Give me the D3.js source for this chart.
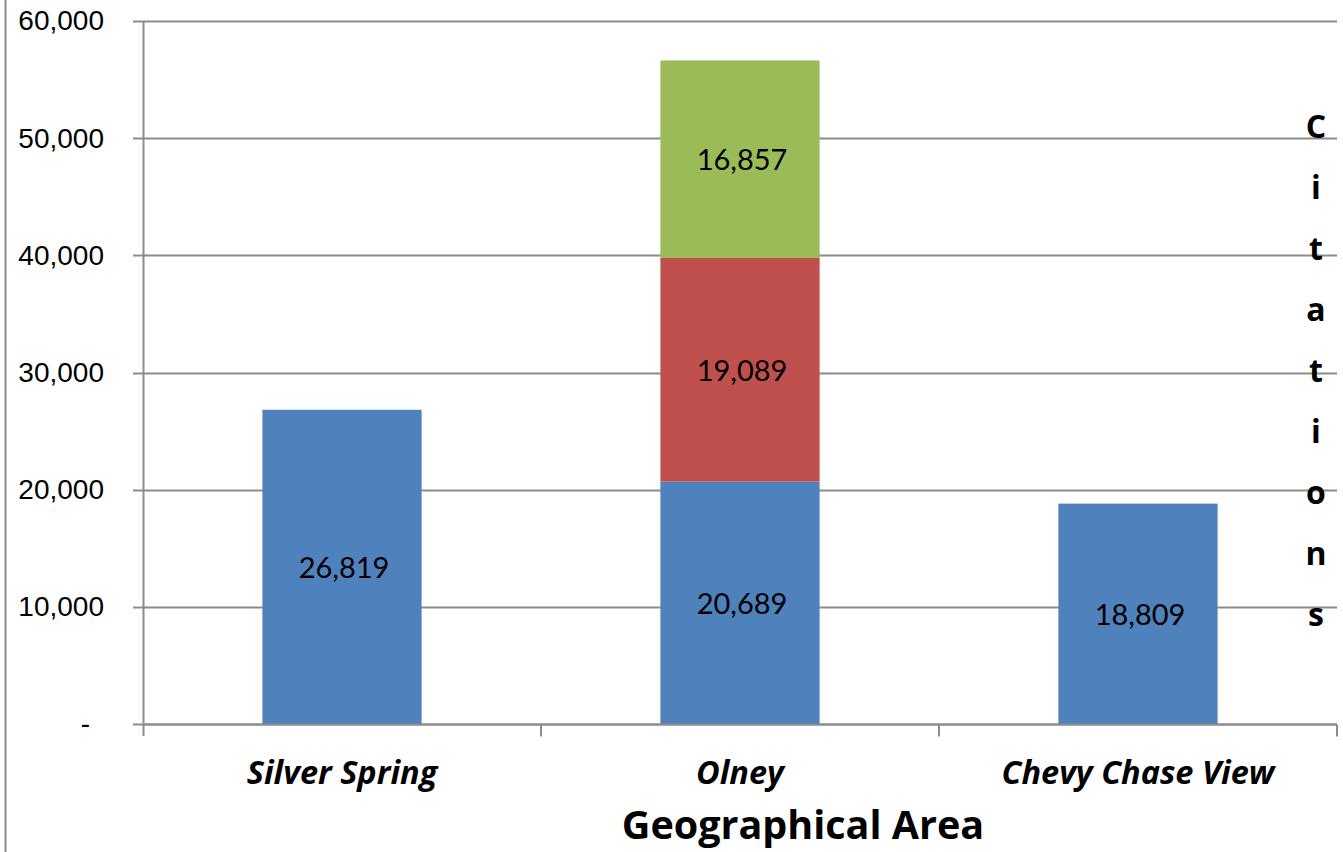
<!DOCTYPE html>
<html>
<head>
<meta charset="utf-8">
<script src="https://cdn.jsdelivr.net/npm/d3@7"></script>
<style>
  body { margin: 0; background: #fff; }
  svg { display: block; font-family: Lato, "Open Sans", sans-serif; }
</style>
</head>
<body>
<svg id="chart" width="1343" height="852"></svg>
<script>
// chart values
var areas = ["Silver Spring", "Olney", "Chevy Chase View"];
var series1 = [26819, 20689, 18809];
var series2 = [0, 19089, 0];
var series3 = [0, 16857, 0];
var seriesColors = ["#4F81BD", "#C0504D", "#9BBB59"];
var yTicks = [0, 10000, 20000, 30000, 40000, 50000, 60000];

var svg = d3.select("#chart");
var margin = {top: 21, right: 6, bottom: 128, left: 143},
    width = 1343 - margin.left - margin.right,
    height = 852 - margin.top - margin.bottom;

// left frame line
svg.append("line")
    .attr("x1", 5.5).attr("x2", 5.5)
    .attr("y1", 0).attr("y2", 852)
    .attr("stroke", "#8c8c8c").attr("stroke-width", 2);

var g = svg.append("g")
    .attr("transform", "translate(" + margin.left + "," + margin.top + ")");

var x = d3.scaleBand().domain(areas).range([0, width]).paddingInner(0.6).paddingOuter(0.3);
var y = d3.scaleLinear().domain([0, 60000]).range([height, 0]);

// gridlines
g.selectAll(".grid")
    .data(yTicks)
  .enter().append("line")
    .attr("class", "grid")
    .attr("x1", -10).attr("x2", width)
    .attr("y1", function(d) { return Math.round(y(d)) + 0.5; })
    .attr("y2", function(d) { return Math.round(y(d)) + 0.5; })
    .attr("stroke", "#8c8c8c").attr("stroke-width", 2);

// stacked bars
var table = areas.map(function(a, i) {
  return {area: a, s0: series1[i], s1: series2[i], s2: series3[i]};
});
var stack = d3.stack().keys(["s0", "s1", "s2"]);
var layers = stack(table);

var layer = g.selectAll(".layer")
    .data(layers)
  .enter().append("g")
    .attr("class", "layer")
    .attr("fill", function(d, i) { return seriesColors[i]; });

layer.selectAll("rect")
    .data(function(d) { return d.filter(function(p) { return p[1] - p[0] > 0; }); })
  .enter().append("rect")
    .attr("x", function(d) { return x(d.data.area); })
    .attr("y", function(d) { return y(d[1]); })
    .attr("height", function(d) { return y(d[0]) - y(d[1]); })
    .attr("width", x.bandwidth());

layer.selectAll("text")
    .data(function(d) { return d.filter(function(p) { return p[1] - p[0] > 0; }); })
  .enter().append("text")
    .attr("x", function(d) { return x(d.data.area) + x.bandwidth() / 2 + 2; })
    .attr("y", function(d) { return (y(d[0]) + y(d[1])) / 2; })
    .attr("dy", ".38em")
    .attr("text-anchor", "middle")
    .attr("fill", "#000")
    .style("font-size", "29px")
    .text(function(d) { return d3.format(",")(d[1] - d[0]); });

// y axis
var yAxis = d3.axisLeft(y)
    .tickValues(yTicks)
    .tickSize(10)
    .tickPadding(29)
    .tickFormat(function(d) { return d === 0 ? "-" : d3.format(",")(d); });
var yg = g.append("g").call(yAxis);
yg.select(".domain").attr("stroke", "#8c8c8c").attr("stroke-width", 2)
    .attr("d", "M0.5," + y(60000) + "V" + (height + 12));
yg.selectAll(".tick line").remove();
yg.selectAll("text").style("font-size", "28px").attr("fill", "#000").attr("font-family", null);
yg.selectAll(".tick text").filter(function(d) { return d === 0; }).attr("x", -53);

// x axis
var xg = g.append("g")
    .attr("transform", "translate(0," + (Math.round(height) + 0.5) + ")");
xg.append("line")
    .attr("x1", 0).attr("x2", width)
    .attr("stroke", "#8c8c8c").attr("stroke-width", 2);
xg.selectAll(".sep")
    .data(areas)
  .enter().append("line")
    .attr("x1", function(d, i) { return (i + 1) * width / areas.length; })
    .attr("x2", function(d, i) { return (i + 1) * width / areas.length; })
    .attr("y1", 0).attr("y2", 12)
    .attr("stroke", "#8c8c8c").attr("stroke-width", 2);
xg.selectAll(".cat")
    .data(areas)
  .enter().append("text")
    .attr("x", function(d) { return x(d) + x.bandwidth() / 2; })
    .attr("y", 59)
    .attr("text-anchor", "middle")
    .style("font-family", "'Open Sans', sans-serif")
    .style("font-size", "32.5px")
    .style("font-weight", "bold")
    .style("font-style", "italic")
    .text(function(d) { return d; });

// axis titles
svg.append("text")
    .attr("x", 803).attr("y", 839)
    .attr("text-anchor", "middle")
    .style("font-family", "'Open Sans', sans-serif")
    .style("font-size", "39.5px")
    .style("font-weight", "bold")
    .text("Geographical Area");

var title = "Citations".split("");
svg.append("g").selectAll("text")
    .data(title)
  .enter().append("text")
    .attr("x", 1316)
    .attr("y", function(d, i) { return 138 + i * 61; })
    .attr("text-anchor", "middle")
    .style("font-family", "'Open Sans', sans-serif")
    .style("font-size", "32px")
    .style("font-weight", "bold")
    .text(function(d) { return d; });
</script>
</body>
</html>
